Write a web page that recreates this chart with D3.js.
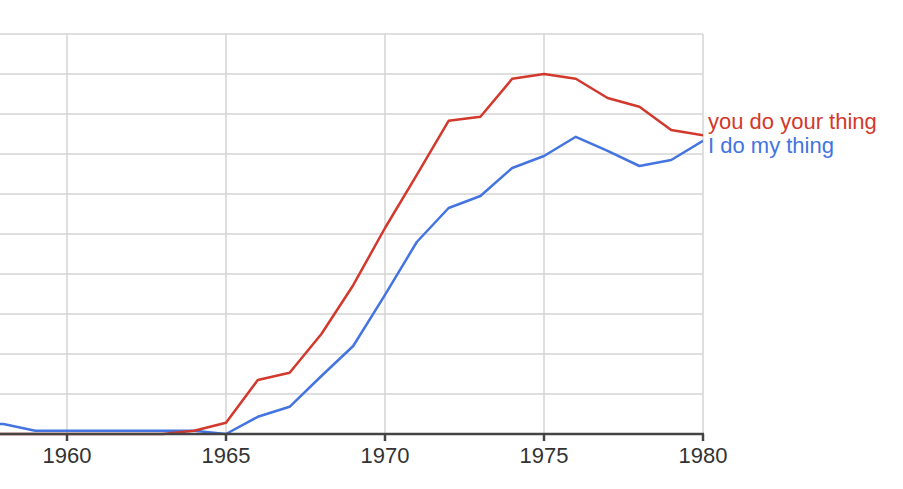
<!DOCTYPE html>
<html lang="en">
<head>
<meta charset="utf-8">
<title>Ngram chart</title>
<script src="https://d3js.org/d3.v7.min.js"></script>
<style>
  body { margin: 0; background: #fff; }
  svg { display: block; font-family: "Liberation Sans", Arial, sans-serif; }
</style>
</head>
<body>
<div id="chart"></div>
<script>
// data (units = gridline steps, no y labels shown)
var years = [1957, 1958, 1959, 1960, 1961, 1962, 1963, 1964, 1965, 1966, 1967, 1968, 1969,
             1970, 1971, 1972, 1973, 1974, 1975, 1976, 1977, 1978, 1979, 1980];
var youDoYourThing = [0, 0, 0, 0, 0, 0, 0, 0.08, 0.28, 1.35, 1.53, 2.5, 3.72,
                      5.15, 6.48, 7.83, 7.93, 8.88, 9.0, 8.88, 8.4, 8.18, 7.6, 7.47];
var iDoMyThing = [0.26, 0.25, 0.08, 0.08, 0.08, 0.08, 0.08, 0.08, 0.0, 0.43, 0.68, 1.45, 2.2,
                  3.48, 4.8, 5.65, 5.95, 6.65, 6.95, 7.43, 7.08, 6.7, 6.85, 7.33];
var seriesNames = ["you do your thing", "I do my thing"];
var seriesColors = ["#d3382c", "#4374e0"];
var xTicks = [1960, 1965, 1970, 1975, 1980];

var w = 903, h = 489;
var plotLeft = 0, plotRight = 703, plotTop = 34, plotBottom = 434;

var svg = d3.select("#chart").append("svg")
    .attr("width", w)
    .attr("height", h);

var x = d3.scaleLinear()
    .domain([1960, 1980])
    .range([67, plotRight]);

var y = d3.scaleLinear()
    .domain([0, 10])
    .range([plotBottom, plotTop]);

// horizontal gridlines
svg.append("g")
  .selectAll("line")
  .data(d3.range(1, 11))
  .enter()
  .append("line")
    .attr("x1", plotLeft)
    .attr("x2", plotRight)
    .attr("y1", function(d) { return y(d); })
    .attr("y2", function(d) { return y(d); })
    .attr("stroke", "#d4d4d4")
    .attr("stroke-width", 1.5);

// vertical gridlines
svg.append("g")
  .selectAll("line")
  .data(xTicks)
  .enter()
  .append("line")
    .attr("x1", function(d) { return x(d); })
    .attr("x2", function(d) { return x(d); })
    .attr("y1", plotTop)
    .attr("y2", plotBottom)
    .attr("stroke", "#d4d4d4")
    .attr("stroke-width", 1.5);

svg.append("clipPath").attr("id", "plot")
  .append("rect")
    .attr("x", plotLeft).attr("y", 0)
    .attr("width", plotRight - plotLeft).attr("height", plotBottom + 10);

var line = d3.line()
    .x(function(d, i) { return x(years[i]); })
    .y(function(d) { return y(d); });

var allSeries = [youDoYourThing, iDoMyThing];

// blue drawn first so red sits on top
[1, 0].forEach(function(k) {
  svg.append("path")
    .datum(allSeries[k])
    .attr("clip-path", "url(#plot)")
    .attr("fill", "none")
    .attr("stroke", seriesColors[k])
    .attr("stroke-width", 2.5)
    .attr("stroke-linejoin", "round")
    .attr("d", line);
});

// x axis baseline and ticks
svg.append("line")
    .attr("x1", plotLeft).attr("x2", plotRight + 1)
    .attr("y1", plotBottom).attr("y2", plotBottom)
    .attr("stroke", "#444")
    .attr("stroke-width", 2.5);

var ticks = svg.append("g").selectAll("g")
  .data(xTicks)
  .enter()
  .append("g")
    .attr("transform", function(d) { return "translate(" + x(d) + ",0)"; });

ticks.append("line")
    .attr("y1", plotBottom).attr("y2", plotBottom + 7)
    .attr("stroke", "#444")
    .attr("stroke-width", 2.5);

ticks.append("text")
    .attr("y", 463)
    .attr("text-anchor", "middle")
    .attr("font-size", "22px")
    .attr("fill", "#333")
    .text(function(d) { return d; });

// series labels at the right end, pushed apart if they collide
var ends = allSeries.map(function(s) { return y(s[s.length - 1]); });
var gap = 24;
var labelY = ends.slice();
if (Math.abs(ends[1] - ends[0]) < gap) {
  var mid = (ends[0] + ends[1]) / 2;
  labelY = ends[0] < ends[1] ? [mid - gap / 2, mid + gap / 2] : [mid + gap / 2, mid - gap / 2];
}

svg.append("g").selectAll("text")
  .data(seriesNames)
  .enter()
  .append("text")
    .attr("x", plotRight + 5)
    .attr("y", function(d, i) { return labelY[i]; })
    .attr("dy", "0.15em")
    .attr("font-size", "22px")
    .attr("fill", function(d, i) { return seriesColors[i]; })
    .text(function(d) { return d; });
</script>
</body>
</html>
